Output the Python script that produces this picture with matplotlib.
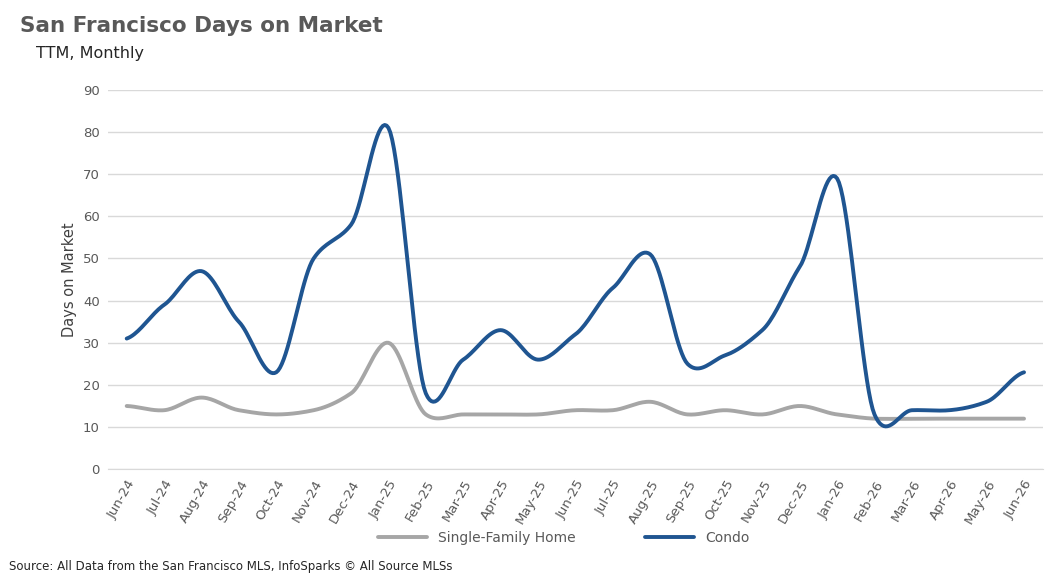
import numpy as np
from matplotlib import pyplot as plt

months = ["Jun-24", "Jul-24", "Aug-24", "Sep-24", "Oct-24", "Nov-24", "Dec-24", "Jan-25",
          "Feb-25", "Mar-25", "Apr-25", "May-25", "Jun-25", "Jul-25", "Aug-25", "Sep-25",
          "Oct-25", "Nov-25", "Dec-25", "Jan-26", "Feb-26", "Mar-26", "Apr-26", "May-26", "Jun-26"]
sfh = [15, 14, 17, 14, 13, 14, 18, 30, 13, 13, 13, 13, 14, 14, 16, 13,
       14, 13, 15, 13, 12, 12, 12, 12, 12]
condo = [31, 39, 47, 35, 23, 50, 58, 81, 18, 26, 33, 26, 32, 43, 51, 25,
         27, 33, 48, 69, 13, 14, 14, 16, 23]


def smooth(y, n=20, k=0.75):
    # hermite curve with damped catmull-rom tangents, close to Excel smoothing
    y = np.asarray(y, float)
    p = np.concatenate([[y[0]], y, [y[-1]]])
    m = k * (p[2:] - p[:-2]) / 2
    xs, ys = [], []
    t = np.linspace(0, 1, n, endpoint=False)
    h00 = 2 * t ** 3 - 3 * t ** 2 + 1
    h10 = t ** 3 - 2 * t ** 2 + t
    h01 = -2 * t ** 3 + 3 * t ** 2
    h11 = t ** 3 - t ** 2
    for i in range(len(y) - 1):
        xs.extend(i + t)
        ys.extend(h00 * y[i] + h10 * m[i] + h01 * y[i + 1] + h11 * m[i + 1])
    xs.append(len(y) - 1)
    ys.append(y[-1])
    return np.array(xs), np.array(ys)


fig = plt.figure(figsize=(10.64, 5.8), dpi=100)
ax = fig.add_axes([0.1015, 0.191, 0.8785, 0.654])

x, y = smooth(sfh)
ax.plot(x, y, color="#a6a6a6", lw=2.8, label="Single-Family Home", solid_capstyle="round")
x, y = smooth(condo)
ax.plot(x, y, color="#1f5591", lw=2.8, label="Condo", solid_capstyle="round")

ax.set_xlim(-0.5, len(months) - 0.5)
ax.set_ylim(0, 90)
ax.set_yticks(range(0, 91, 10))
ax.set_xticks(range(len(months)))
ax.set_xticklabels(months, rotation=60, ha="right", rotation_mode="anchor")
ax.tick_params(length=0, labelsize=9.5, colors="#595959", pad=6)
ax.grid(axis="y", color="#d9d9d9", lw=1)
for s in ["top", "right", "left"]:
    ax.spines[s].set_visible(False)
ax.spines["bottom"].set_color("#d9d9d9")
ax.set_ylabel("Days on Market", fontsize=10.5, color="#404040")

fig.legend(loc="center", bbox_to_anchor=(0.53, 0.073), ncol=2, frameon=False,
           fontsize=10, handlelength=3.5, columnspacing=5, labelcolor="#595959")
fig.text(0.019, 0.945, "San Francisco Days on Market", fontsize=15.5, fontweight="bold", color="#595959")
fig.text(0.034, 0.9, "TTM, Monthly", fontsize=11.5, color="#262626")
fig.text(0.008, 0.018, "Source: All Data from the San Francisco MLS, InfoSparks \u00a9 All Source MLSs",
         fontsize=8.5, color="#262626")

fig.savefig("out.png", dpi=100)
